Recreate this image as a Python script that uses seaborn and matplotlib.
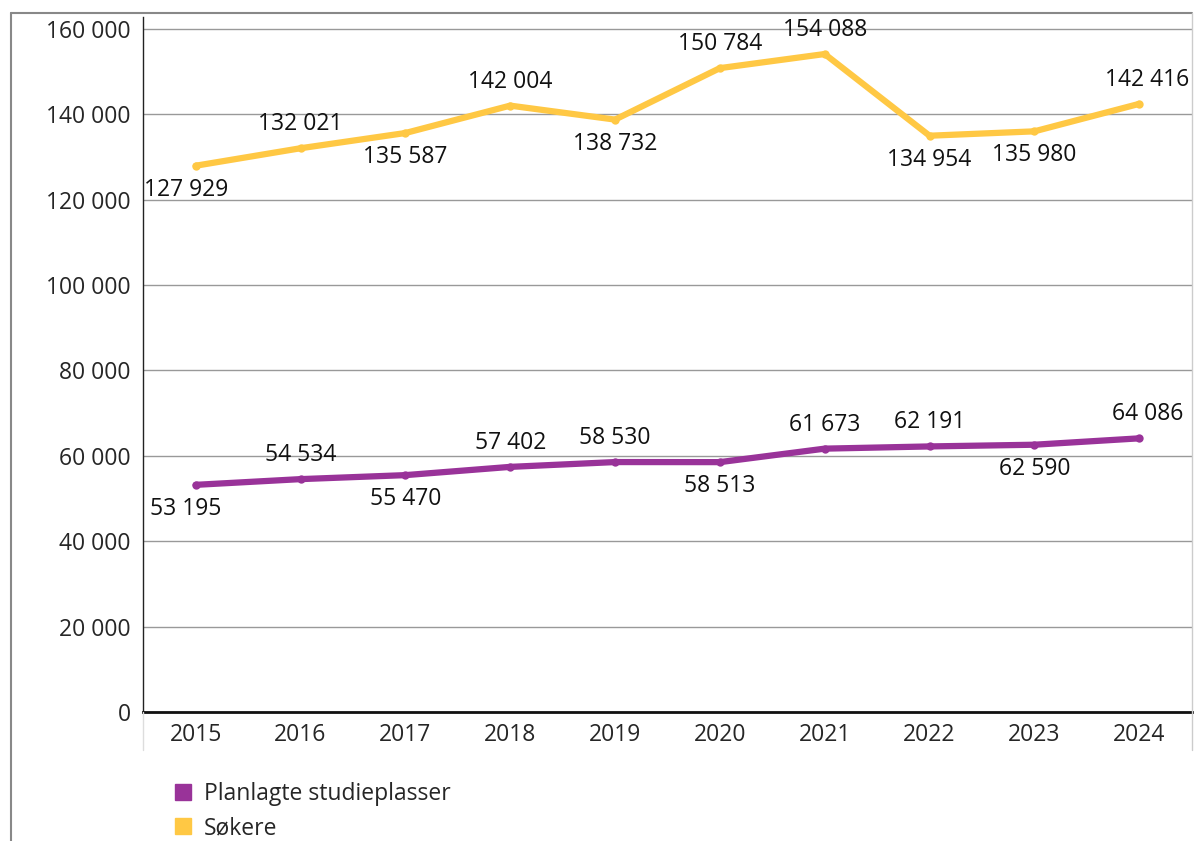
import pandas as pd
import matplotlib.pyplot as plt
import seaborn as sns
from matplotlib.lines import Line2D

years = [2015, 2016, 2017, 2018, 2019, 2020, 2021, 2022, 2023, 2024]
planlagte = [53195, 54534, 55470, 57402, 58530, 58513, 61673, 62191, 62590, 64086]
sokere = [127929, 132021, 135587, 142004, 138732, 150784, 154088, 134954, 135980, 142416]
# label placement: +1 above the point, -1 below
planlagte_pos = [-1, 1, -1, 1, 1, -1, 1, 1, -1, 1]
sokere_pos = [-1, 1, -1, 1, -1, 1, 1, -1, -1, 1]
series_names = ["Planlagte studieplasser", "Søkere"]
colors = ["#993399", "#FFC844"]
yticks = [0, 20000, 40000, 60000, 80000, 100000, 120000, 140000, 160000]

sns.set_style("white")
plt.rcParams['font.family'] = ['Open Sans', 'DejaVu Sans']
FS = 16.5

df = pd.DataFrame({
    "x": list(range(len(years))) * 2,
    "value": planlagte + sokere,
    "serie": [series_names[0]] * len(years) + [series_names[1]] * len(years),
})

fig = plt.figure(figsize=(11.94, 8.41), dpi=100)
ax = fig.add_axes([0.12, 0.1534, 0.878, 0.8266])

sns.lineplot(data=df, x="x", y="value", hue="serie", palette=colors,
             linewidth=4.5, marker="o", markersize=6, markeredgewidth=0,
             legend=False, ax=ax)

fmt = lambda v: f"{v:,}".replace(",", " ")
for vals, pos in [(planlagte, planlagte_pos), (sokere, sokere_pos)]:
    for i, (v, p) in enumerate(zip(vals, pos)):
        dx = -10 if i == 0 else (8 if i == len(vals) - 1 else 0)
        ax.annotate(fmt(v), (i, v), xytext=(dx, 24 * p), textcoords="offset pixels",
                    ha="center", va="center", fontsize=FS, color="#111111")

ax.set_xlim(-0.5, len(years) - 0.5)
ax.set_ylim(0, 162800)
ax.set_xticks(range(len(years)))
ax.set_xticklabels([str(y) for y in years], fontsize=FS)
ax.set_yticks(yticks)
ax.set_yticklabels([fmt(t) for t in yticks], fontsize=FS)
ax.yaxis.grid(True, color="#999999", linewidth=1)
ax.set_xlabel("")
ax.set_ylabel("")
ax.tick_params(axis="y", length=6, width=1, color="#222222", pad=3)
ax.tick_params(axis="x", length=0, pad=8)
for s in ["top", "right"]:
    ax.spines[s].set_visible(False)
ax.spines["left"].set_color("#222222")
ax.spines["left"].set_linewidth(1)
ax.spines["bottom"].set_color("#111111")
ax.spines["bottom"].set_linewidth(2)

# outer frame
W, H = 1194, 841
fig.add_artist(Line2D([11 / W, 1192 / W], [1 - 13 / H, 1 - 13 / H], color="#888888", lw=1.5))
fig.add_artist(Line2D([11 / W, 11 / W], [0, 1 - 13 / H], color="#888888", lw=1.5))
fig.add_artist(Line2D([1192 / W, 1192 / W], [1 - 750 / H, 1 - 13 / H], color="#cccccc", lw=1))
fig.add_artist(Line2D([143 / W, 143 / W], [1 - 750 / H, 1 - 712 / H], color="#dddddd", lw=1))

handles = [Line2D([], [], marker="s", linestyle="", markersize=11, color=c) for c in colors]
fig.legend(handles, series_names, loc="upper left", bbox_to_anchor=(160 / W, 1 - 773 / H),
           frameon=False, fontsize=FS, handletextpad=0.3, labelspacing=0.45,
           handlelength=1.2, borderaxespad=0)

fig.savefig("out.png", dpi=100)
